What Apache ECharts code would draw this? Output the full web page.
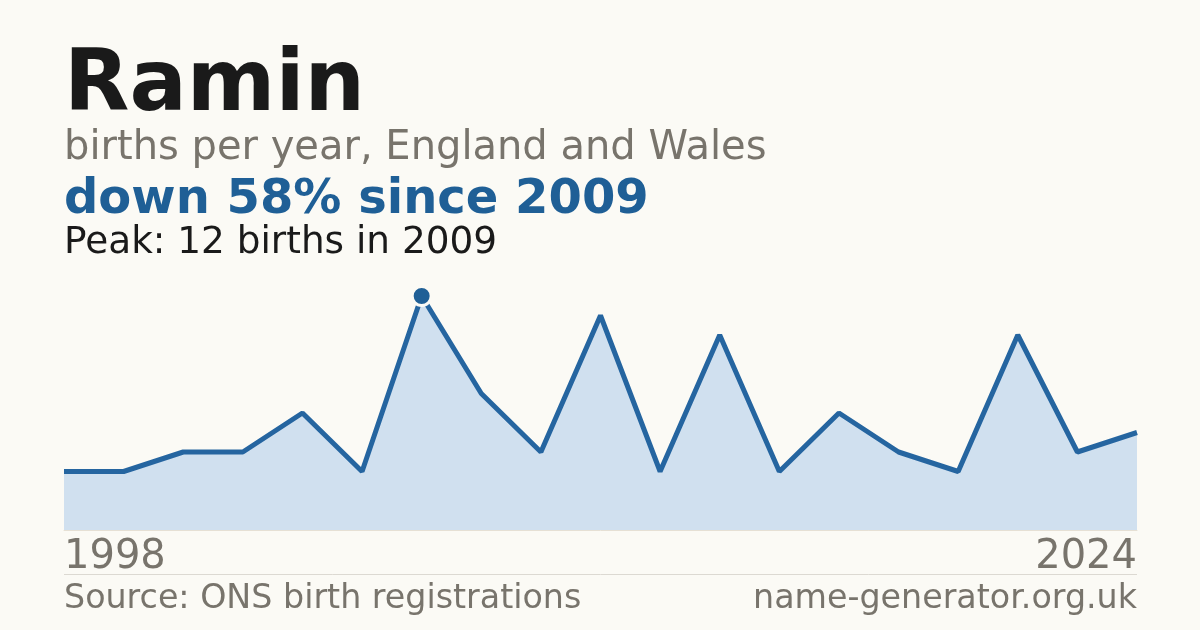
<!DOCTYPE html>
<html><head><meta charset="utf-8">
<script src="https://cdn.jsdelivr.net/npm/echarts@6/dist/echarts.min.js"></script>
<style>html,body{margin:0;padding:0;background:#fbfaf5}#c{width:1200px;height:630px}</style>
</head><body><div id="c"></div>
<script>
const years = ['1998','1999','2001','2003','2005','2007','2009','2010','2011','2012','2014','2015','2016','2017','2018','2020','2021','2022','2024'];
const births = [3,3,4,4,6,3,12,7,4,11,3,10,3,6,4,3,10,4,5];
const peakIndex = 6;
const F = 'DejaVu Sans';
const chart = echarts.init(document.getElementById('c'));
const last = years.length - 1;
const texts = [
  {t: 'Ramin', w: 'bold', size: 85, fill: '#1a1a1a', base: 115, x: 64, align: 'left'},
  {t: 'births per year, England and Wales', w: 'normal', size: 40, fill: '#78746c', base: 161, x: 64, align: 'left'},
  {t: 'down 58% since 2009', w: 'bold', size: 48, fill: '#1f5f96', base: 216, x: 64, align: 'left'},
  {t: 'Peak: 12 births in 2009', w: 'normal', size: 37.4, fill: '#1a1a1a', base: 255, x: 64, align: 'left'},
  {t: 'Source: ONS birth registrations', w: 'normal', size: 33.3, fill: '#78746c', base: 610, x: 64, align: 'left'},
  {t: 'name-generator.org.uk', w: 'normal', size: 33.3, fill: '#78746c', base: 610, x: 1137, align: 'right'}
];
const g = texts.map(o => ({type: 'text', x: o.x, y: o.base - 0.32*o.size, style: {text: o.t, fontFamily: F, fontSize: o.size, fontWeight: o.w, fill: o.fill, align: o.align, verticalAlign: 'middle'}}));
g.push({type: 'line', shape: {x1: 64, y1: 574.5, x2: 1137, y2: 574.5}, style: {stroke: '#dcd9d2', lineWidth: 1}});
chart.setOption({
  backgroundColor: '#fbfaf5',
  animation: false,
  textStyle: {fontFamily: F},
  grid: {left: 64, right: 63, top: 296, bottom: 100},
  xAxis: {
    type: 'category', data: years, boundaryGap: false,
    axisLine: {show: true, lineStyle: {color: '#e6e0d4', width: 1}},
    axisTick: {show: false},
    axisLabel: {
      interval: (i) => i === 0 || i === last,
      fontFamily: F, fontSize: 40, color: '#78746c', margin: 8,
      alignMinLabel: 'left', alignMaxLabel: 'right'
    },
    splitLine: {show: false}
  },
  yAxis: {type: 'value', min: 0, max: 12, show: false, splitLine: {show: false}},
  series: [{
    type: 'line', data: births.map((v, i) => i === peakIndex ? {value: v, symbol: 'circle', symbolSize: 19, itemStyle: {color: '#1f5f96', borderColor: '#fbfaf5', borderWidth: 3}} : v),
    showSymbol: true, symbol: 'none',
    lineStyle: {color: '#2565a0', width: 5},
    areaStyle: {color: '#d0e0ef', opacity: 1},
    z: 2
  }],
  graphic: g
});
</script></body></html>
